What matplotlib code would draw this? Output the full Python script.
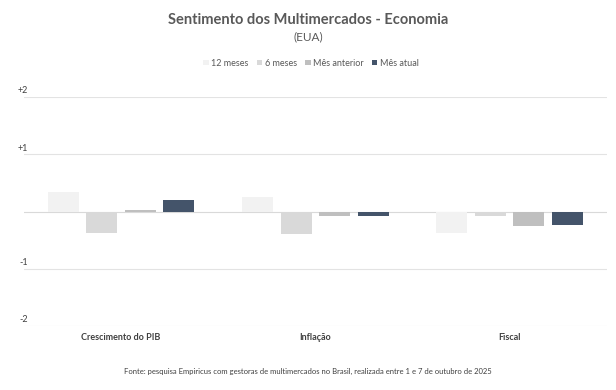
import numpy as np
import matplotlib.pyplot as plt
from matplotlib.transforms import blended_transform_factory

categories = ['Crescimento do PIB', 'Inflação', 'Fiscal']
series_names = ['12 meses', '6 meses', 'Mês anterior', 'Mês atual']
v_12m = [0.34, 0.25, -0.38]
v_6m = [-0.37, -0.40, -0.07]
v_anterior = [0.035, -0.07, -0.25]
v_atual = [0.21, -0.07, -0.23]
tick_vals = [2, 1, -1, -2]
tick_labels = ['+2', '+1', '-1', '-2']

colors = ['#f2f2f2', '#d9d9d9', '#bfbfbf', '#44546a']
plt.rcParams['font.family'] = ['Lato', 'DejaVu Sans']

fig = plt.figure(figsize=(6.16, 3.9), dpi=100)
ax = fig.add_axes([0.039, 0.164, 0.946, 0.587])

x = np.arange(len(categories))
step = 0.198
width = 0.16
all_vals = [v_12m, v_6m, v_anterior, v_atual]
for i, (vals, name) in enumerate(zip(all_vals, series_names)):
    ax.bar(x + (i - 1.5) * step, vals, width, color=colors[i], label=name, zorder=3)

ax.set_xlim(-0.5, 2.5)
ax.set_ylim(-2, 2)
for v in [2, 1, 0, -1, -2]:
    ax.axhline(v, color='#e3e3e3' if v != 0 else '#d9d9d9', lw=0.8, zorder=1)
for s in ax.spines.values():
    s.set_visible(False)
ax.set_xticks([])
ax.set_yticks([])

tr = blended_transform_factory(ax.transAxes, ax.transData)
for v, lab in zip(tick_vals, tick_labels):
    ax.text(0.007, v + 0.11, lab, transform=tr, ha='right', va='center',
            fontsize=6.5, color='#404040')

for xi, cat in zip(x, categories):
    ax.text(xi, -2.2, cat, ha='center', va='center', fontsize=6.5,
            fontweight='bold', color='#404040')

fig.text(0.5, 0.95, 'Sentimento dos Multimercados - Economia', ha='center',
         va='center', fontsize=10.5, fontweight='bold', color='#595959')
fig.text(0.5, 0.905, '(EUA)', ha='center', va='center', fontsize=8.5,
         color='#595959')

fig.legend(loc='center', bbox_to_anchor=(0.505, 0.838), ncol=4, frameon=False,
           fontsize=6.5, handlelength=0.6, handleheight=0.6, handletextpad=0.3,
           columnspacing=0.9, labelcolor='#595959')

fig.text(0.5, 0.047, 'Fonte: pesquisa Empiricus com gestoras de multimercados no Brasil, '
         'realizada entre 1 e 7 de outubro de 2025', ha='center', va='center',
         fontsize=5.5, color='#404040')

plt.savefig('out.png', dpi=100)
